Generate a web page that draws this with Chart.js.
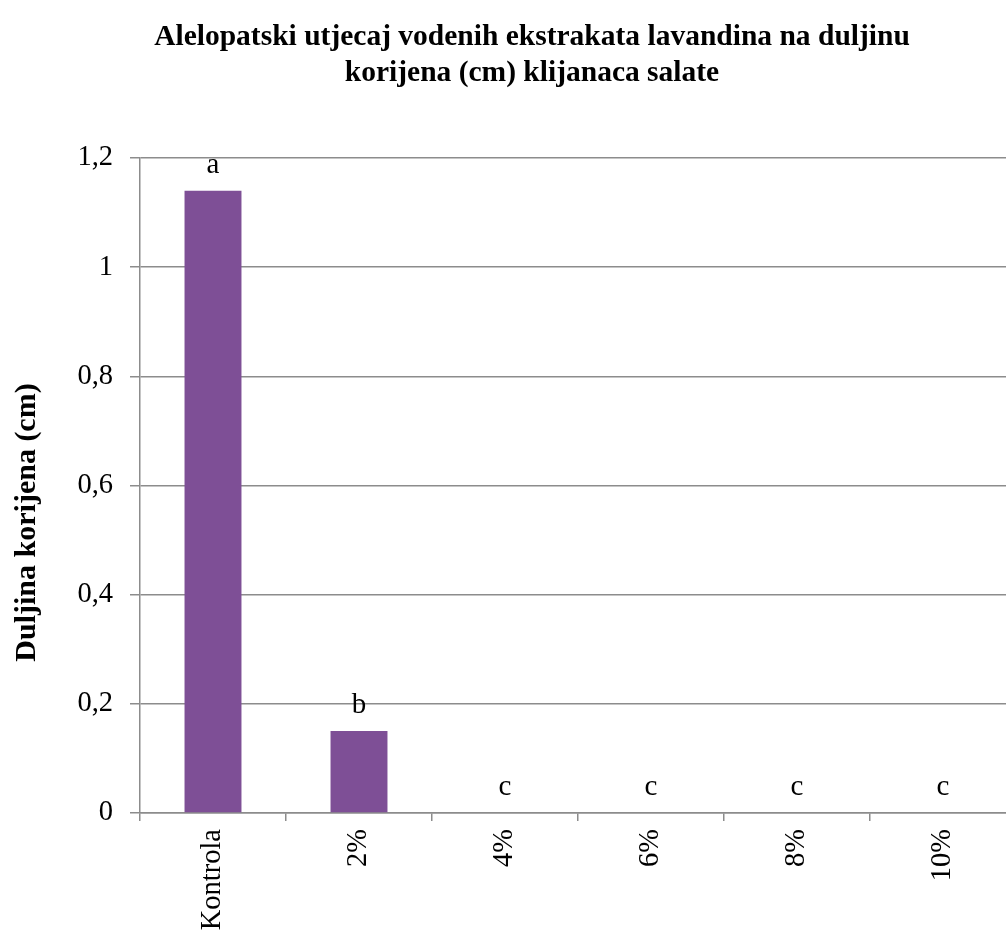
<!DOCTYPE html>
<html>
<head>
<meta charset="utf-8">
<script src="https://cdn.jsdelivr.net/npm/chart.js@4.4.0/dist/chart.umd.min.js"></script>
<style>
  html, body { margin: 0; padding: 0; background: #fff; overflow: hidden; }
  #wrap { width: 1006px; height: 934px; overflow: hidden; }
</style>
</head>
<body>
<div id="wrap"><canvas id="rootChart" width="1064" height="934"></canvas></div>
<script>
// data
const categories = ['Kontrola', '2%', '4%', '6%', '8%', '10%'];
const rootLength = [1.14, 0.15, 0, 0, 0, 0];
const sigLetters = ['a', 'b', 'c', 'c', 'c', 'c'];
const yTicks = [0, 0.2, 0.4, 0.6, 0.8, 1, 1.2];
const yTitle = 'Duljina korijena (cm)';

const serif = '"Liberation Serif", "Times New Roman", serif';
const gridColor = '#8c8c8c';

// letters above each bar, plus the y title (sits a bit below the plot centre in the original)
const letterPlugin = {
  id: 'letters',
  afterDatasetsDraw(chart) {
    const ctx = chart.ctx;
    const meta = chart.getDatasetMeta(0);
    ctx.save();
    ctx.font = '29px ' + serif;
    ctx.fillStyle = '#000';
    ctx.textAlign = 'center';
    ctx.textBaseline = 'alphabetic';
    meta.data.forEach((bar, i) => {
      ctx.fillText(sigLetters[i], bar.x, bar.y - 18);
    });

    const area = chart.chartArea;
    ctx.translate(27, (area.top + area.bottom) / 2 + 37);
    ctx.rotate(-Math.PI / 2);
    ctx.font = 'bold 30px ' + serif;
    ctx.textBaseline = 'middle';
    ctx.fillText(yTitle, 0, 0);
    ctx.restore();
  }
};

new Chart(document.getElementById('rootChart'), {
  type: 'bar',
  data: {
    labels: categories,
    datasets: [{
      data: rootLength,
      backgroundColor: '#7e4f96',
      borderWidth: 0,
      barPercentage: 0.39,
      categoryPercentage: 1
    }]
  },
  options: {
    responsive: false,
    animation: false,
    devicePixelRatio: 1,
    layout: { padding: 0 },
    plugins: {
      legend: { display: false },
      tooltip: { enabled: false },
      title: {
        display: true,
        text: ['Alelopatski utjecaj vodenih ekstrakata lavandina na duljinu', 'korijena (cm) klijanaca salate'],
        color: '#000',
        font: { family: serif, size: 29.5, weight: 'bold', lineHeight: 1.22 },
        padding: { top: 19, bottom: 67 }
      }
    },
    scales: {
      x: {
        grid: { display: true, drawOnChartArea: false, color: gridColor, lineWidth: 1.5, tickLength: 8, offset: true },
        border: { color: gridColor, width: 1.5 },
        ticks: { color: '#000', font: { family: serif, size: 28.5 }, minRotation: 90, maxRotation: 90, padding: 8 },
        afterFit(scale) { scale.height = 121; }
      },
      y: {
        min: 0,
        max: 1.2,
        afterBuildTicks(scale) { scale.ticks = yTicks.map(v => ({ value: v })); },
        grid: { color: gridColor, lineWidth: 1.5, tickLength: 10 },
        border: { color: gridColor, width: 1.5 },
        ticks: {
          color: '#000',
          font: { family: serif, size: 28.5 },
          padding: 17,
          callback: v => String(Math.round(v * 10) / 10).replace('.', ',')
        },
        afterFit(scale) { scale.width = 140; }
      },
      // empty right-hand axis, only reserves the margin the crop hides
      spacer: {
        type: 'linear',
        position: 'right',
        display: true,
        grid: { display: false },
        border: { display: false },
        ticks: { display: false },
        afterFit(scale) { scale.width = 48; }
      }
    }
  },
  plugins: [letterPlugin]
});
</script>
</body>
</html>
